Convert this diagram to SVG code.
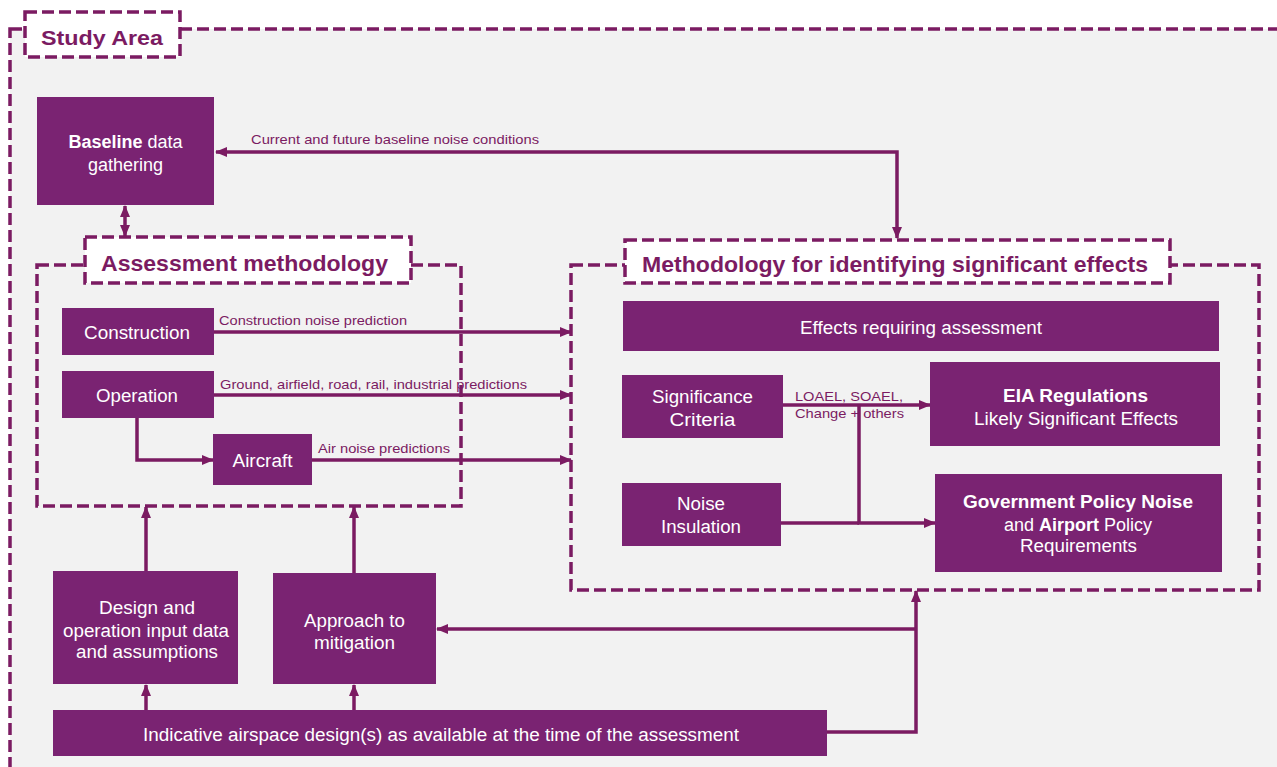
<svg xmlns="http://www.w3.org/2000/svg" width="1277" height="767" viewBox="0 0 1277 767">
  <style>
    .frame { fill: none; stroke: #7b1b62; stroke-width: 3.5; stroke-dasharray: 12 5; }
    .tag { fill: #ffffff; stroke: #7b1b62; stroke-width: 3.5; stroke-dasharray: 12 5; }
    .tagtext { font-family: "Liberation Sans", Arial, sans-serif; font-weight: bold; fill: #7b1b62; }
    .box { fill: #7a2372; }
    .bt { font-family: "Liberation Sans", Arial, sans-serif; font-size: 18px; fill: #ffffff; text-anchor: middle; }
    .b { font-weight: bold; }
    .lbl { font-family: "Liberation Sans", Arial, sans-serif; font-size: 13px; fill: #7b1b62; }
    .wire { fill: none; stroke: #7b1b62; stroke-width: 3.5; }
  </style>
  <defs>
    <marker id="head" viewBox="0 0 12 10" refX="11" refY="5" markerWidth="12" markerHeight="10" markerUnits="userSpaceOnUse" orient="auto-start-reverse">
      <path d="M0,0 L12,5 L0,10 Z" fill="#7b1b62"/>
    </marker>
  </defs>

  <rect width="1277" height="767" fill="#ffffff"/>

  <!-- Study area frame -->
  <g id="study-area">
    <rect x="10" y="29" width="1300" height="770" fill="#f2f2f2" stroke="#7b1b62" stroke-width="3.5" stroke-dasharray="12 5"/>
    <rect class="tag" x="25" y="12" width="155" height="45"/>
    <text class="tagtext" x="41" y="45" font-size="20" textLength="122" lengthAdjust="spacingAndGlyphs">Study Area</text>
  </g>

  <!-- Assessment methodology frame -->
  <g id="assessment-methodology">
    <rect class="frame" x="37" y="265" width="424" height="241"/>
    <rect class="tag" x="85" y="237" width="326" height="46"/>
    <text class="tagtext" x="101" y="271" font-size="22" textLength="287" lengthAdjust="spacingAndGlyphs">Assessment methodology</text>
  </g>

  <!-- Significant effects frame -->
  <g id="significant-effects">
    <rect class="frame" x="571" y="265" width="688" height="325"/>
    <rect class="tag" x="625" y="240" width="545" height="43"/>
    <text class="tagtext" x="642" y="272" font-size="22" textLength="506" lengthAdjust="spacingAndGlyphs">Methodology for identifying significant effects</text>
  </g>

  <!-- Connectors -->
  <g id="connectors">
    <path class="wire" d="M216,152 H897 V238" marker-start="url(#head)" marker-end="url(#head)"/>
    <path class="wire" d="M125,206 V236" marker-start="url(#head)" marker-end="url(#head)"/>
    <path class="wire" d="M214,332 H571" marker-end="url(#head)"/>
    <path class="wire" d="M214,395 H571" marker-end="url(#head)"/>
    <path class="wire" d="M312,460 H571" marker-end="url(#head)"/>
    <path class="wire" d="M137,418 V460 H213" marker-end="url(#head)"/>
    <path class="wire" d="M783,405 H930" marker-end="url(#head)"/>
    <path class="wire" d="M859,405 V523 H935" marker-end="url(#head)"/>
    <path class="wire" d="M781,523 H859"/>
    <path class="wire" d="M146,571 V507" marker-end="url(#head)"/>
    <path class="wire" d="M354,573 V507" marker-end="url(#head)"/>
    <path class="wire" d="M146,710 V685" marker-end="url(#head)"/>
    <path class="wire" d="M354,710 V685" marker-end="url(#head)"/>
    <path class="wire" d="M827,732 H916 V591" marker-end="url(#head)"/>
    <path class="wire" d="M916,629 H437" marker-end="url(#head)"/>
    <text class="lbl" x="251" y="144" textLength="288" lengthAdjust="spacingAndGlyphs">Current and future baseline noise conditions</text>
    <text class="lbl" x="219" y="325" textLength="188" lengthAdjust="spacingAndGlyphs">Construction noise prediction</text>
    <text class="lbl" x="220" y="389" textLength="307" lengthAdjust="spacingAndGlyphs">Ground, airfield, road, rail, industrial predictions</text>
    <text class="lbl" x="318" y="453" textLength="132" lengthAdjust="spacingAndGlyphs">Air noise predictions</text>
    <text class="lbl" x="795" y="401" textLength="108" lengthAdjust="spacingAndGlyphs">LOAEL, SOAEL,</text>
    <text class="lbl" x="795" y="418" textLength="109" lengthAdjust="spacingAndGlyphs">Change + others</text>
  </g>

  <!-- Nodes -->
  <g id="baseline">
    <rect class="box" x="37" y="97" width="177" height="108"/>
    <text class="bt" x="125.5" y="148"><tspan class="b">Baseline</tspan> data</text>
    <text class="bt" x="125.5" y="171">gathering</text>
  </g>
  <g id="construction">
    <rect class="box" x="62" y="308" width="152" height="47"/>
    <text class="bt" x="137" y="339" textLength="106" lengthAdjust="spacingAndGlyphs">Construction</text>
  </g>
  <g id="operation">
    <rect class="box" x="62" y="371" width="152" height="47"/>
    <text class="bt" x="137" y="402" textLength="82" lengthAdjust="spacingAndGlyphs">Operation</text>
  </g>
  <g id="aircraft">
    <rect class="box" x="213" y="434" width="99" height="51"/>
    <text class="bt" x="262.5" y="467" textLength="60" lengthAdjust="spacingAndGlyphs">Aircraft</text>
  </g>
  <g id="effects">
    <rect class="box" x="623" y="301" width="596" height="50"/>
    <text class="bt" x="921" y="334" textLength="242" lengthAdjust="spacingAndGlyphs">Effects requiring assessment</text>
  </g>
  <g id="significance">
    <rect class="box" x="622" y="375" width="161" height="63"/>
    <text class="bt" x="702.5" y="403" textLength="101" lengthAdjust="spacingAndGlyphs">Significance</text>
    <text class="bt" x="702.5" y="426" textLength="66" lengthAdjust="spacingAndGlyphs">Criteria</text>
  </g>
  <g id="eia">
    <rect class="box" x="930" y="362" width="290" height="84"/>
    <text class="bt b" x="1075.5" y="402" textLength="145" lengthAdjust="spacingAndGlyphs">EIA Regulations</text>
    <text class="bt" x="1076" y="425" textLength="204" lengthAdjust="spacingAndGlyphs">Likely Significant Effects</text>
  </g>
  <g id="noise-insulation">
    <rect class="box" x="622" y="483" width="159" height="63"/>
    <text class="bt" x="701" y="510" textLength="48" lengthAdjust="spacingAndGlyphs">Noise</text>
    <text class="bt" x="701" y="533" textLength="80" lengthAdjust="spacingAndGlyphs">Insulation</text>
  </g>
  <g id="government-policy">
    <rect class="box" x="935" y="474" width="287" height="98"/>
    <text class="bt b" x="1078" y="508" textLength="230" lengthAdjust="spacingAndGlyphs">Government Policy Noise</text>
    <text class="bt" x="1078" y="531">and <tspan class="b">Airport</tspan> Policy</text>
    <text class="bt" x="1078.5" y="552" textLength="117" lengthAdjust="spacingAndGlyphs">Requirements</text>
  </g>
  <g id="design-inputs">
    <rect class="box" x="53" y="571" width="185" height="113"/>
    <text class="bt" x="147" y="614" textLength="96" lengthAdjust="spacingAndGlyphs">Design and</text>
    <text class="bt" x="146" y="637" textLength="166" lengthAdjust="spacingAndGlyphs">operation input data</text>
    <text class="bt" x="147" y="658" textLength="142" lengthAdjust="spacingAndGlyphs">and assumptions</text>
  </g>
  <g id="mitigation">
    <rect class="box" x="273" y="573" width="163" height="111"/>
    <text class="bt" x="354.5" y="627" textLength="101" lengthAdjust="spacingAndGlyphs">Approach to</text>
    <text class="bt" x="354.5" y="649" textLength="81" lengthAdjust="spacingAndGlyphs">mitigation</text>
  </g>
  <g id="airspace-design">
    <rect class="box" x="53" y="710" width="774" height="46"/>
    <text class="bt" x="441" y="741" textLength="596" lengthAdjust="spacingAndGlyphs">Indicative airspace design(s) as available at the time of the assessment</text>
  </g>
</svg>
